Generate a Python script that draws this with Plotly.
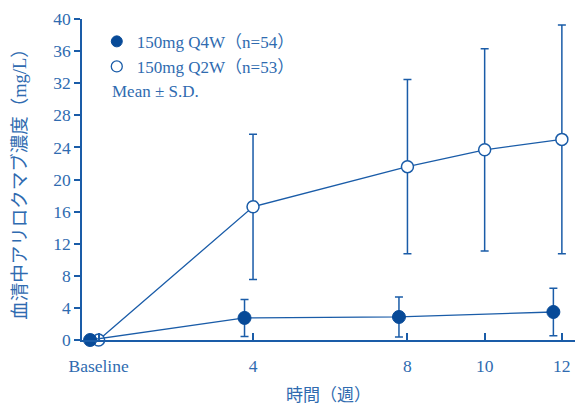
import plotly.graph_objects as go

# Data
weeks_q2w = [0, 4, 8, 10, 12]
mean_q2w = [0, 16.6, 21.6, 23.7, 25.0]
sd_q2w = [0, 9.05, 10.85, 12.6, 14.25]

weeks_q4w = [0, 4, 8, 12]
mean_q4w = [0, 2.75, 2.87, 3.49]
sd_q4w = [0, 2.3, 2.5, 2.95]
q4w_offset = -0.22  # horizontal offset of Q4W points (weeks)

tick_vals = [0, 4, 8, 10, 12]
tick_text = ["Baseline", "4", "8", "10", "12"]

LINE = "#1a5ca8"
DARK = "#074a98"
TEXT = "#2f6bb0"
FONT = "Liberation Serif, Noto Sans CJK JP, serif"

fig = go.Figure()

fig.add_trace(go.Scatter(
    x=weeks_q2w, y=mean_q2w, mode="lines+markers",
    line=dict(color=LINE, width=1.3),
    marker=dict(symbol="circle", size=12, color="white", line=dict(color=LINE, width=1.5)),
    error_y=dict(type="data", array=sd_q2w, color=LINE, thickness=1.5, width=4),
    showlegend=False, cliponaxis=False,
))
fig.add_trace(go.Scatter(
    x=[w + q4w_offset for w in weeks_q4w], y=mean_q4w, mode="lines+markers",
    line=dict(color=LINE, width=1.3),
    marker=dict(symbol="circle", size=13, color=DARK, line=dict(color=DARK, width=1)),
    error_y=dict(type="data", array=sd_q4w, color=LINE, thickness=1.5, width=4),
    showlegend=False, cliponaxis=False,
))

# legend-only entries
fig.add_trace(go.Scatter(
    x=[None], y=[None], mode="markers", name="150mg Q4W（n=54）",
    marker=dict(symbol="circle", size=11, color=DARK, line=dict(color=DARK, width=1)),
))
fig.add_trace(go.Scatter(
    x=[None], y=[None], mode="markers", name="150mg Q2W（n=53）",
    marker=dict(symbol="circle", size=11, color="white", line=dict(color=LINE, width=1.3)),
))

fig.add_annotation(
    text="Mean ± S.D.", xref="paper", yref="paper", x=0.057, y=0.775,
    xanchor="left", yanchor="middle", showarrow=False,
    font=dict(family=FONT, size=17, color=TEXT),
)

fig.update_layout(
    width=575, height=405,
    margin=dict(l=82, r=0, t=19, b=65),
    paper_bgcolor="white", plot_bgcolor="white",
    font=dict(family=FONT, size=17, color=TEXT),
    legend=dict(x=0.03, y=0.985, xanchor="left", yanchor="top",
                bgcolor="rgba(0,0,0,0)", font=dict(family=FONT, size=17, color=TEXT),
                tracegroupgap=0, itemwidth=30),
    showlegend=True,
)

fig.update_xaxes(
    range=[-0.43, 12.34], tickmode="array", tickvals=tick_vals, ticktext=tick_text,
    ticks="inside", ticklen=7, tickcolor=LINE, tickwidth=1.5,
    showline=True, linecolor=LINE, linewidth=1.5, showgrid=False, zeroline=False,
    tickfont=dict(family=FONT, size=17.5, color=TEXT), ticklabelstandoff=9,
    title=dict(text="時間（週）", font=dict(family=FONT, size=17, color=TEXT), standoff=16),
)
fig.update_yaxes(
    range=[0, 40], dtick=4, ticks="outside", ticklen=6, tickcolor=LINE, tickwidth=1.5,
    showline=True, linecolor=LINE, linewidth=1.5, showgrid=False, zeroline=False,
    tickfont=dict(family=FONT, size=17.5, color=TEXT),
    title=dict(text="血清中アリロクマブ濃度（mg/L）", font=dict(family=FONT, size=18.5, color=TEXT), standoff=22),
)

fig.write_html("out.html", config={"displayModeBar": False},
               post_script="document.body.style.margin='0';")
